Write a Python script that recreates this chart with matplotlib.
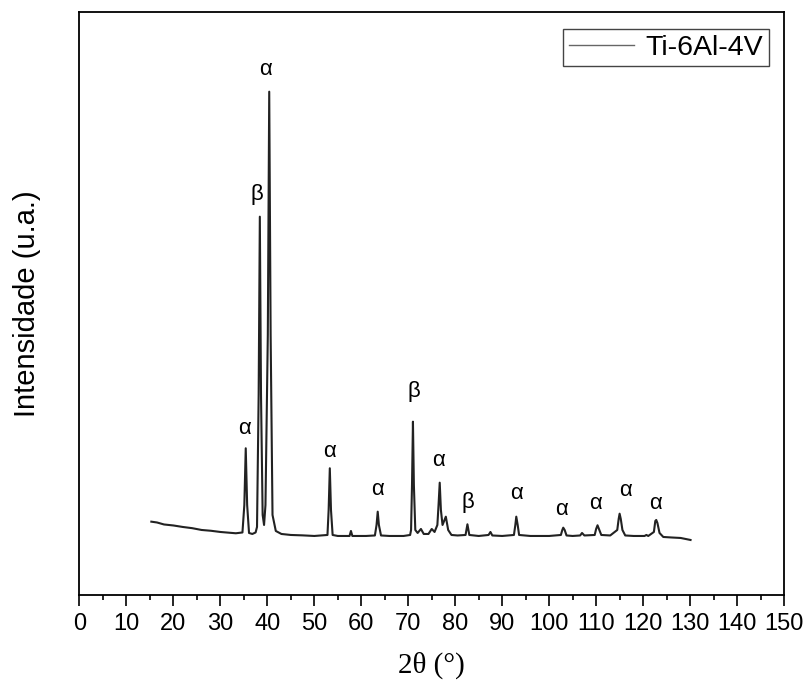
# XRD pattern of Ti-6Al-4V

import numpy as np
import matplotlib
matplotlib.use('Agg')
import matplotlib.pyplot as plt
from matplotlib.ticker import MultipleLocator, NullLocator

# Data (2theta in degrees, intensity in arbitrary counts)

two_theta = [15.3, 16.5, 18.0, 20.0, 22.0, 24.0, 26.0, 28.0, 30.0, 32.0, 33.3,
             34.7, 35.1, 35.4, 35.7, 36.1,
             36.8, 37.5, 37.8, 38.15, 38.4, 38.65, 39.0, 39.3, 39.6, 40.1, 40.4,
             40.7, 41.1, 41.8, 43.0, 45.0, 47.5, 50.0, 52.8, 53.05, 53.3, 53.55, 53.9,
             55.0, 57.5, 57.8, 58.1, 61.0, 62.9, 63.25, 63.5, 63.75, 64.2, 66.0,
             69.0, 70.4, 70.6, 70.8, 71.0, 71.2, 71.5, 72.0, 72.7, 73.3, 74.3,
             75.0, 75.6, 76.2, 76.45, 76.7, 76.95, 77.3, 78.0, 78.5, 79.2, 80.5,
             82.2, 82.6, 83.0, 85.0, 87.1, 87.5, 87.9, 90.0, 92.5, 92.8, 93.0,
             93.3, 93.6, 96.0, 100.0, 102.5, 102.8, 103.0, 103.3, 103.7, 105.0,
             106.6, 107.0, 107.5, 109.7, 110.0, 110.3, 110.6, 111.1, 113.0, 114.5,
             114.8, 115.0, 115.25, 115.6, 116.2, 118.0, 120.3, 120.7, 121.1, 122.3,
             122.6, 122.8, 123.05, 123.5, 124.3, 126.0, 128.0, 130.1]
intensity = [733, 725, 705, 695, 680, 668, 650, 642, 630, 622, 617,
             625, 900, 1467, 900, 620,
             610, 625, 680, 2000, 3783, 2000, 800, 700, 900, 2600, 5033,
             2600, 800, 640, 610, 600, 596, 590, 600, 850, 1267, 850, 600,
             590, 590, 640, 590, 590, 595, 700, 833, 700, 595, 590,
             590, 600, 650, 1100, 1733, 1100, 650, 620, 660, 610, 610,
             660, 630, 700, 900, 1123, 850, 700, 783, 650, 600, 595,
             600, 707, 600, 590, 600, 630, 595, 590, 600, 700, 783,
             700, 600, 590, 590, 600, 650, 673, 650, 595, 590,
             595, 620, 595, 600, 660, 697, 660, 600, 595, 650,
             760, 813, 760, 650, 595, 590, 590, 600, 590, 630,
             740, 750, 720, 620, 580, 575, 570, 550]

# Phase labels above the peaks
phase_text = ['α', 'β', 'α', 'α', 'α', 'β', 'α', 'β', 'α', 'α', 'α', 'α', 'α']
phase_x = [35.1, 37.8, 39.7, 53.2, 63.5, 71.1, 76.4, 82.8, 93.0, 102.7, 109.9, 116.2, 122.7]
phase_y = [1667, 4000, 5250, 1433, 1050, 2030, 1340, 923, 1010, 857, 910, 1040, 910]

# Plot

fig = plt.figure(figsize=(8.06, 6.86), dpi=100)
ax = fig.add_axes([0.0986, 0.1327, 0.8741, 0.8491])

ax.plot(two_theta, intensity, color='#222222', linewidth=1.5, label='Ti-6Al-4V')

for t, x, y in zip(phase_text, phase_x, phase_y):
    ax.text(x, y, t, ha='center', va='center', fontsize=16, family='Liberation Sans')

ax.set_xlim(0, 150)
ax.set_ylim(0, 5825)

ax.xaxis.set_major_locator(MultipleLocator(10))
ax.xaxis.set_minor_locator(MultipleLocator(5))
ax.yaxis.set_major_locator(NullLocator())
ax.tick_params(axis='x', which='major', direction='out', length=8, width=1.2, pad=5)
ax.tick_params(axis='x', which='minor', direction='out', length=3.6, width=1.2)
for lbl in ax.get_xticklabels():
    lbl.set_family('Liberation Sans')
    lbl.set_fontsize(17)

for s in ax.spines.values():
    s.set_linewidth(1.3)

ax.set_xlabel('2θ (°)', family='Liberation Serif', fontsize=21, labelpad=12)
ax.set_ylabel('Intensidade (u.a.)', family='Liberation Sans', fontsize=21, labelpad=28)

leg = ax.legend(loc='upper right', bbox_to_anchor=(0.9787, 0.9717), borderaxespad=0,
                prop={'family': 'Liberation Sans', 'size': 20.5},
                handlelength=2.3, handletextpad=0.4, borderpad=0.2,
                fancybox=False, edgecolor='#444444', framealpha=1)
leg.get_frame().set_linewidth(1.0)
leg.get_lines()[0].set_color('#666666')
leg.get_lines()[0].set_linewidth(1.0)

fig.savefig('out.png', dpi=100)
